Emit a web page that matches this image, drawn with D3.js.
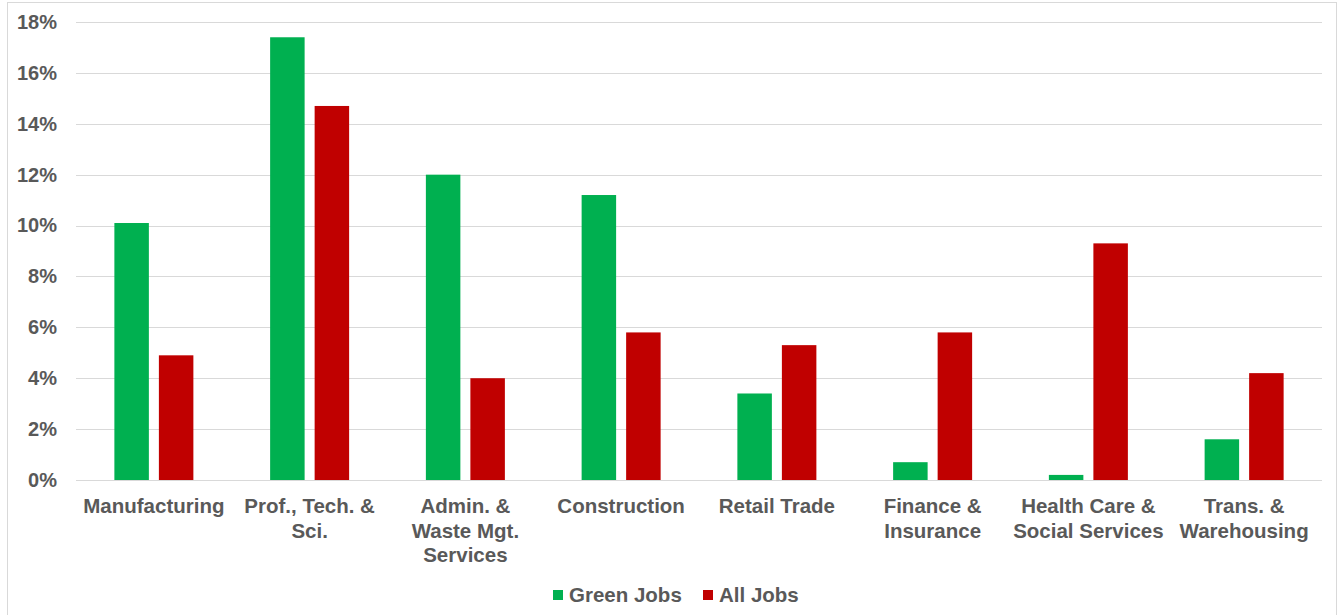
<!DOCTYPE html>
<html>
<head>
<meta charset="utf-8">
<script src="https://cdn.jsdelivr.net/npm/d3@7"></script>
<style>
  html, body { margin: 0; padding: 0; background: #fff; }
  svg { display: block; font-family: "Liberation Sans", Arial, sans-serif; }
</style>
</head>
<body>
<svg id="chart" width="1343" height="615"></svg>
<script>
const categories = ["Manufacturing", "Prof., Tech. & Sci.", "Admin. & Waste Mgt. Services", "Construction", "Retail Trade", "Finance & Insurance", "Health Care & Social Services", "Trans. & Warehousing"];
const categoryLabelLines = [["Manufacturing"], ["Prof., Tech. &", "Sci."], ["Admin. &", "Waste Mgt.", "Services"], ["Construction"], ["Retail Trade"], ["Finance &", "Insurance"], ["Health Care &", "Social Services"], ["Trans. &", "Warehousing"]];
const seriesNames = ["Green Jobs", "All Jobs"];
const greenJobs = [10.1, 17.4, 12.0, 11.2, 3.4, 0.7, 0.2, 1.6];
const allJobs = [4.9, 14.7, 4.0, 5.8, 5.3, 5.8, 9.3, 4.2];
const yTicks = [0, 2, 4, 6, 8, 10, 12, 14, 16, 18];
const colors = ["#00b050", "#c00000"];

const svg = d3.select("#chart");
const W = 1343, H = 615;
const plot = { left: 76, right: 1322, top: 22, bottom: 480 };
const textColor = "#595959";
const gridColor = "#d9d9d9";

svg.append("rect").attr("x", 0).attr("y", 0).attr("width", W).attr("height", H).attr("fill", "#fff");
svg.append("rect").attr("x", 7.5).attr("y", 2.5).attr("width", 1329).attr("height", 640)
  .attr("fill", "none").attr("stroke", gridColor).attr("stroke-width", 1);

const x0 = d3.scaleBand().domain(categories).range([plot.left, plot.right]).padding(0);
const groupW = 79;
const x1 = d3.scaleBand().domain(seriesNames).range([0, groupW]).paddingInner(0.225).paddingOuter(0);
const y = d3.scaleLinear().domain([0, 18]).range([plot.bottom, plot.top]);

// gridlines
svg.append("g").selectAll("line").data(yTicks).join("line")
  .attr("x1", plot.left).attr("x2", plot.right)
  .attr("y1", d => Math.round(y(d)) + 0.5).attr("y2", d => Math.round(y(d)) + 0.5)
  .attr("stroke", gridColor).attr("stroke-width", 1.2);

// y axis labels
const yAxis = d3.axisLeft(y).tickValues(yTicks).tickFormat(d => d + "%").tickSize(0).tickPadding(19);
const gy = svg.append("g").attr("transform", `translate(${plot.left},0)`).call(yAxis);
gy.select(".domain").remove();
gy.selectAll("text").attr("fill", textColor).attr("font-size", 20).attr("font-weight", "bold")
  .attr("font-family", "'Liberation Sans', Arial, sans-serif");

// bars
const data = categories.map((c, i) => ({ cat: c, vals: [greenJobs[i], allJobs[i]] }));
const groups = svg.append("g").selectAll("g").data(data).join("g")
  .attr("transform", d => `translate(${x0(d.cat) + (x0.bandwidth() - groupW) / 2},0)`);
groups.selectAll("rect").data(d => d.vals.map((v, j) => ({ s: seriesNames[j], v, j }))).join("rect")
  .attr("x", d => x1(d.s)).attr("width", x1.bandwidth())
  .attr("y", d => y(d.v)).attr("height", d => y(0) - y(d.v))
  .attr("fill", d => colors[d.j]);

// x axis labels
const xl = svg.append("g");
categories.forEach((c, i) => {
  const t = xl.append("text")
    .attr("x", x0(c) + x0.bandwidth() / 2)
    .attr("y", 513)
    .attr("text-anchor", "middle")
    .attr("fill", textColor).attr("font-size", 20.5).attr("font-weight", "bold");
  categoryLabelLines[i].forEach((line, k) => {
    t.append("tspan").attr("x", x0(c) + x0.bandwidth() / 2).attr("dy", k === 0 ? 0 : 24.5).text(line);
  });
});

// legend
const legend = svg.append("g");
const legendItems = [{ name: seriesNames[0], x: 553 }, { name: seriesNames[1], x: 703 }];
legendItems.forEach((d, i) => {
  legend.append("rect").attr("x", d.x).attr("y", 590).attr("width", 10).attr("height", 10).attr("fill", colors[i]);
  legend.append("text").attr("x", d.x + 16).attr("y", 602).attr("fill", textColor)
    .attr("font-size", 20.5).attr("font-weight", "bold").text(d.name);
});
</script>
</body>
</html>
